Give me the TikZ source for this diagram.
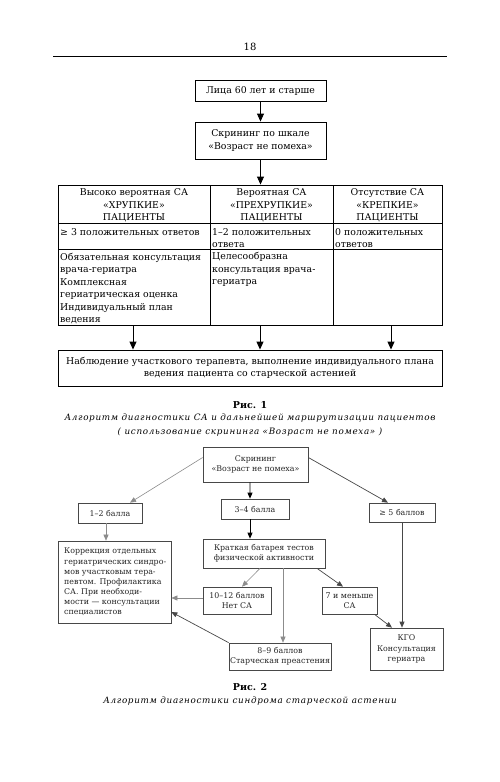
\documentclass[tikz,border=0pt]{standalone}
\usepackage{fontspec}
\setmainfont{DejaVu Serif}
\newfontfamily\capfont[LetterSpace=8]{DejaVu Serif}
\usetikzlibrary{arrows.meta}
\newcommand\fone{\fontsize{9.4}{12.5}\selectfont}
\newcommand\ftwo{\fontsize{7.9}{10.2}\selectfont}
\newcommand\fcap{\fontsize{8.8}{10}\selectfont}
\colorlet{lgray}{black!45}
\colorlet{dgray}{black!72}
\tikzset{
  bA/.style={draw, line width=0.9pt, inner sep=0pt, align=center, font=\fone},
  tA/.style={inner sep=0pt, font=\fone},
  arA/.style={line width=0.9pt, -{Triangle[width=7pt,length=8pt]}},
  bB/.style={draw=dgray, line width=0.7pt, inner sep=0pt, align=center, font=\ftwo, text=black!85},
  arL/.style={draw=lgray, line width=0.6pt, -{Triangle[width=5pt,length=6pt]}},
  arD/.style={draw=dgray, line width=0.7pt, -{Triangle[width=5pt,length=6pt]}},
  arK/.style={draw=black, line width=0.8pt, -{Triangle[width=5pt,length=6pt]}},
  capt/.style={inner sep=0pt, font=\fcap\capfont\itshape},
  captn/.style={inner sep=0pt, font=\fontsize{9.5}{11}\selectfont\bfseries},
}
\begin{document}
\begin{tikzpicture}[x=1bp,y=-1bp]
\useasboundingbox[fill=white] (0,0) rectangle (500,782);
% header
\node[inner sep=0pt, font=\fontsize{10}{11}\selectfont] (pg) at (250,47) {18};
\draw[line width=0.8pt] (53,56) -- (447,56);

% ---------------- Figure 1 ----------------
\node[bA, minimum width=131bp, minimum height=21bp] (a1) at (260.5,90.5) {Лица 60 лет и старше};
\node[bA, minimum width=131bp, minimum height=37bp] (a2) at (260.5,140.5) {Скрининг по шкале\\«Возраст не помеха»};
\node[draw, line width=0.9pt, inner sep=0pt, minimum width=384bp, minimum height=140bp] (tbl) at (250,255) {};
\draw[line width=0.8pt] (58,223) -- (442,223) (58,249) -- (442,249) (210,185) -- (210,325) (333,185) -- (333,325);
\draw[arA] (a1) -- (a2);
\draw[arA] (a2.south) -- (a2.south |- tbl.north);

\node[tA, align=center] (h1) at (134,205.5) {Высоко вероятная СА\\«ХРУПКИЕ»\\ПАЦИЕНТЫ};
\node[tA, align=center] (h2) at (271.5,205.5) {Вероятная СА\\«ПРЕХРУПКИЕ»\\ПАЦИЕНТЫ};
\node[tA, align=center] (h3) at (387.5,205.5) {Отсутствие СА\\«КРЕПКИЕ»\\ПАЦИЕНТЫ};

\node[tA, align=left, anchor=west] (r1) at (60,232) {≥ 3 положительных ответов};
\node[tA, align=left, anchor=west] (r2) at (212,238) {1–2 положительных\\ответа};
\node[tA, align=left, anchor=west] (r3) at (335,238) {0 положительных\\ответов};

\node[tA, align=left, anchor=west] (s1) at (60,288.5) {Обязательная консультация\\врача-гериатра\\Комплексная\\гериатрическая оценка\\Индивидуальный план\\ведения};
\node[tA, align=left, anchor=west] (s2) at (212,269.5) {Целесообразна\\консультация врача-\\гериатра};

\node[bA, minimum width=384bp, minimum height=36bp] (bot) at (250,368) {Наблюдение участкового терапевта, выполнение индивидуального плана\\ведения пациента со старческой астенией};
\coordinate (t1) at (133,325);
\coordinate (t2) at (260,325);
\coordinate (t3) at (391,325);
\draw[arA] (t1) -- (t1 |- bot.north);
\draw[arA] (t2) -- (t2 |- bot.north);
\draw[arA] (t3) -- (t3 |- bot.north);

\node[captn] (c1) at (250,405) {Рис. 1};
\node[capt] (c1a) at (250,418) {Алгоритм диагностики СА и дальнейшей маршрутизации пациентов};
\node[capt] (c1b) at (250,432) {( использование скрининга «Возраст не помеха» )};

% ---------------- Figure 2 ----------------
\node[bB, minimum width=105bp, minimum height=35bp] (scr) at (255.5,464.5) {Скрининг\\«Возраст не помеха»};
\node[bB, minimum width=64bp, minimum height=20bp] (b12) at (110,513) {1–2 балла};
\node[bB, minimum width=68bp, minimum height=20bp] (b34) at (255,509) {3–4 балла};
\node[bB, minimum width=66bp, minimum height=19bp] (b5) at (402,512.5) {≥ 5 баллов};
\node[bB, minimum width=113bp, minimum height=82bp] (corr) at (114.5,582) {};
\node[inner sep=0pt, align=left, anchor=west, font=\ftwo, text=black!85] (corrt) at (64,582) {Коррекция отдельных\\гериатрических синдро-\\мов участковым тера-\\певтом. Профилактика\\СА. При необходи-\\мости — консультации\\специалистов};
\node[bB, minimum width=122bp, minimum height=29bp] (krat) at (264,553.5) {Краткая батарея тестов\\физической активности};
\node[bB, minimum width=68bp, minimum height=27bp] (b1012) at (237,600.5) {10–12 баллов\\Нет СА};
\node[bB, minimum width=55bp, minimum height=27bp] (b7) at (349.5,600.5) {7 и меньше\\СА};
\node[bB, minimum width=102bp, minimum height=27bp] (b89) at (280,656.5) {8–9 баллов\\Старческая преастения};
\node[bB, minimum width=73bp, minimum height=42bp] (kgo) at (406.5,649) {КГО\\Консультация\\гериатра};

\draw[arL] ([yshift=7bp]scr.west) -- ([xshift=20bp]b12.north);
\draw[arD] ([yshift=7bp]scr.east) -- ([xshift=-14bp]b5.north);
\draw[arK] ([xshift=-5.5bp]scr.south) -- ([xshift=-5bp]b34.north);
\draw[arK] ([xshift=-5bp]b34.south) -- ([xshift=-5bp]b34.south |- krat.north);
\draw[arL] ([xshift=-4bp]b12.south) -- ([xshift=-4bp]b12.south |- corr.north);
\draw[arL] ([xshift=-4bp]krat.south) -- ([xshift=5bp]b1012.north);
\draw[arL] ([xshift=19bp]krat.south) -- ([xshift=19bp]krat.south |- b89.north);
\draw[arD] ([xshift=53bp]krat.south) -- ([xshift=-6.5bp]b7.north);
\draw[arD] ([xshift=25bp]b7.south) -- ([xshift=-14.5bp]kgo.north);
\draw[arD] (b5.south) -- (b5.south |- kgo.north);
\draw[arL] ([yshift=2.5bp]b1012.west) -- ([yshift=2.5bp]b1012.west -| corr.east);
\draw[arD] (b89.north west) -- ([yshift=-30bp]corr.east);

\node[captn] (c2) at (250,687) {Рис. 2};
\node[capt] (c2a) at (250,701) {Алгоритм диагностики синдрома старческой астении};
\end{tikzpicture}
\end{document}
